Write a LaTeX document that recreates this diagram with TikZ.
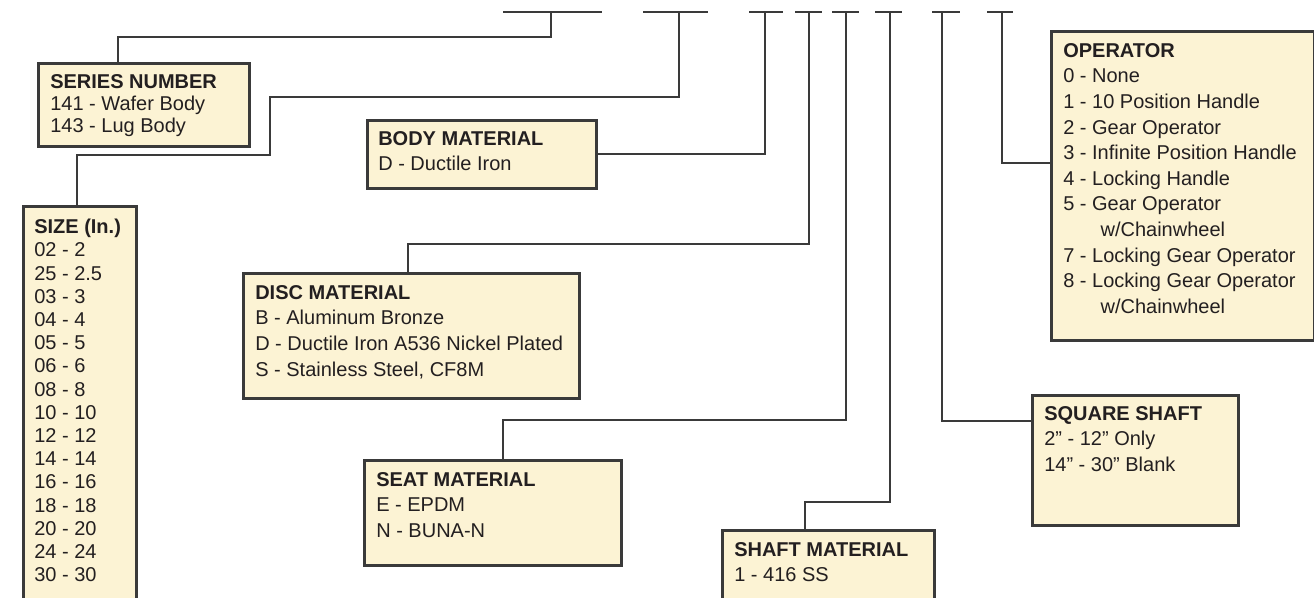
\documentclass[tikz,border=0pt]{standalone}
\usepackage{fontspec}
\setmainfont{Liberation Sans}
\definecolor{cream}{RGB}{252,243,212}
\definecolor{frame}{RGB}{58,58,58}
\definecolor{ink}{RGB}{35,31,32}

\begin{document}
\begin{tikzpicture}[x=0.75pt, y=-0.75pt,
  optbox/.style={draw=frame, fill=cream, line width=2pt, anchor=north west, inner sep=0pt},
  opttext/.style={anchor=north west, inner sep=0pt, align=left, text=ink,
    font=\fontsize{15pt}{19.2pt}\selectfont},
  wire/.style={draw=frame, line width=1.5pt}]
  \useasboundingbox (0,0) rectangle (1314,598);
  \clip (0,0) rectangle (1314,598);
  % code positions
  \coordinate (codeser) at (551,12);
  \coordinate (codesize) at (679,12);
  \coordinate (codebody) at (765,12);
  \coordinate (codedisc) at (809,12);
  \coordinate (codeseat) at (846,12);
  \coordinate (codeshaft) at (890,12);
  \coordinate (codesq) at (942,12);
  \coordinate (codeop) at (1002,12);
  \draw[wire] ([shift={(-48,0)}]codeser) -- ([shift={(51,0)}]codeser);
  \draw[wire] ([shift={(-36,0)}]codesize) -- ([shift={(29,0)}]codesize);
  \draw[wire] ([shift={(-16,0)}]codebody) -- ([shift={(18,0)}]codebody);
  \draw[wire] ([shift={(-14,0)}]codedisc) -- ([shift={(13,0)}]codedisc);
  \draw[wire] ([shift={(-14,0)}]codeseat) -- ([shift={(13,0)}]codeseat);
  \draw[wire] ([shift={(-15,0)}]codeshaft) -- ([shift={(12,0)}]codeshaft);
  \draw[wire] ([shift={(-10,0)}]codesq) -- ([shift={(18,0)}]codesq);
  \draw[wire] ([shift={(-15,0)}]codeop) -- ([shift={(11,0)}]codeop);
  % series number
  \node[optbox, minimum width=158.25pt, minimum height=62.25pt] (series) at (37,62) {};
  \node[opttext, font=\fontsize{15pt}{16.5pt}\selectfont] (seriestxt) at ([shift={(13,12)}]series.north west)
    {\textbf{SERIES NUMBER}\\141 - Wafer Body\\143 - Lug Body};
  \draw[wire] (codeser) -- ++(0,25) -| ([shift={(81,0)}]series.north west);
  % size
  \node[optbox, minimum width=84.75pt, minimum height=315pt] (size) at (22,205) {};
  \node[opttext, font=\fontsize{15pt}{17.4pt}\selectfont] (sizetxt) at ([shift={(12,14)}]size.north west)
    {\textbf{SIZE (In.)}\\02 - 2\\25 - 2.5\\03 - 3\\04 - 4\\05 - 5\\06 - 6\\08 - 8\\10 - 10\\12 - 12\\14 - 14\\16 - 16\\18 - 18\\20 - 20\\24 - 24\\30 - 30};
  \draw[wire] (codesize) -- ++(0,85) -- ++(-409,0) -- ++(0,58) -| ([shift={(55,0)}]size.north west);
  % body material
  \node[optbox, minimum width=171.75pt, minimum height=51pt] (body) at (366,119) {};
  \node[opttext] (bodytxt) at ([shift={(12,12)}]body.north west)
    {\textbf{BODY MATERIAL}\\D - Ductile Iron};
  \draw[wire] (codebody) |- (body.east);
  % disc material
  \node[optbox, minimum width=252pt, minimum height=93.75pt] (disc) at (242,272) {};
  \node[opttext] (disctxt) at ([shift={(13,13)}]disc.north west)
    {\textbf{DISC MATERIAL}\\B - Aluminum Bronze\\D - Ductile Iron A536 Nickel Plated\\S - Stainless Steel, CF8M};
  \draw[wire] (codedisc) -- ++(0,232) -| ([shift={(166,0)}]disc.north west);
  % seat material
  \node[optbox, minimum width=192.75pt, minimum height=78.75pt] (seat) at (363,459) {};
  \node[opttext] (seattxt) at ([shift={(13,13)}]seat.north west)
    {\textbf{SEAT MATERIAL}\\E - EPDM\\N - BUNA-N};
  \draw[wire] (codeseat) -- ++(0,408) -| ([shift={(140,0)}]seat.north west);
  % shaft material
  \node[optbox, minimum width=159pt, minimum height=75pt] (shaft) at (721,529) {};
  \node[opttext] (shafttxt) at ([shift={(13,13)}]shaft.north west)
    {\textbf{SHAFT MATERIAL}\\1 - 416 SS};
  \draw[wire] (codeshaft) -- ++(0,490) -| ([shift={(84,0)}]shaft.north west);
  % square shaft
  \node[optbox, minimum width=154.5pt, minimum height=97.5pt] (square) at (1031,394) {};
  \node[opttext] (squaretxt) at ([shift={(13,12)}]square.north west)
    {\textbf{SQUARE SHAFT}\\2” - 12” Only\\14” - 30” Blank};
  \draw[wire] (codesq) |- ([shift={(0,27)}]square.north west);
  % operator
  \node[optbox, minimum width=197.25pt, minimum height=231.75pt] (operator) at (1050,30) {};
  \node[opttext] (operatortxt) at ([shift={(13,13)}]operator.north west)
    {\textbf{OPERATOR}\\0 - None\\1 - 10 Position Handle\\2 - Gear Operator\\3 - Infinite Position Handle\\4 - Locking Handle\\5 - Gear Operator\\\hspace*{28pt}w/Chainwheel\\7 - Locking Gear Operator\\8 - Locking Gear Operator\\\hspace*{28pt}w/Chainwheel};
  \draw[wire] (codeop) |- ([shift={(0,133)}]operator.north west);
\end{tikzpicture}
\end{document}
